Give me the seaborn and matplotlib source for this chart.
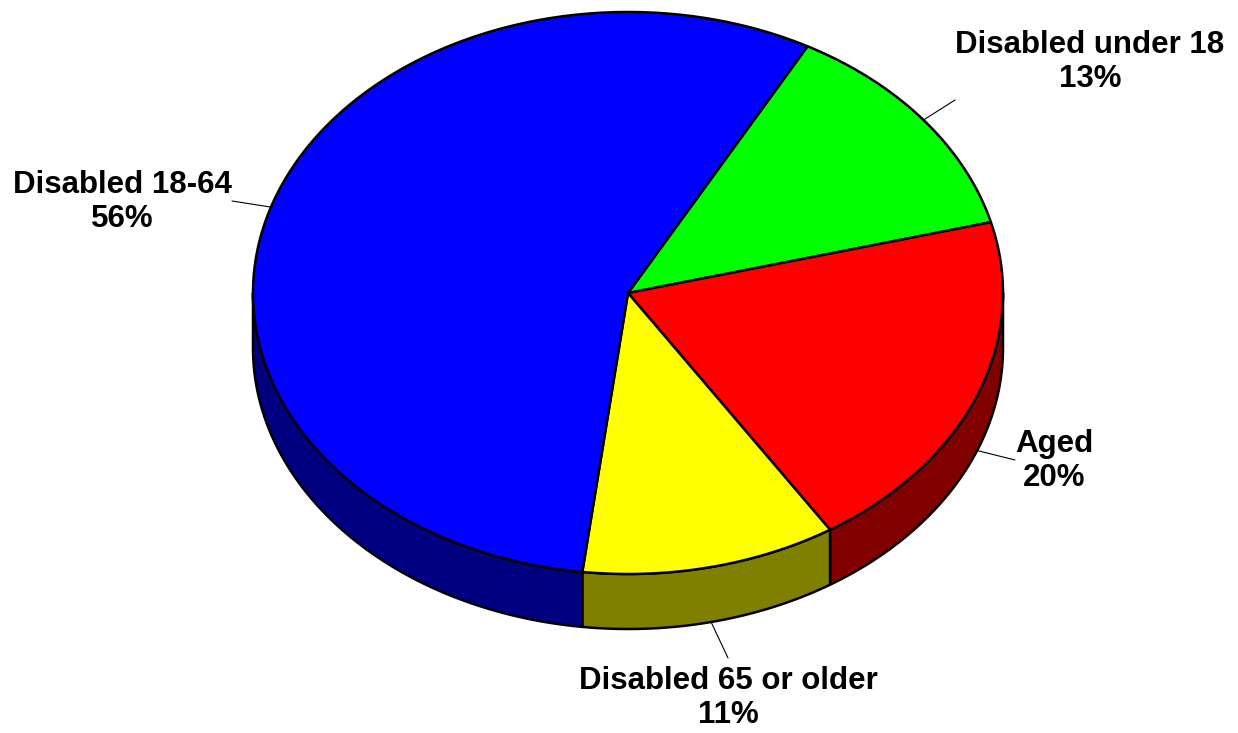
import numpy as np
import matplotlib
matplotlib.use("Agg")
import matplotlib.pyplot as plt  # type: ignore
import seaborn as sns  # type: ignore
from matplotlib.patches import Polygon

# Data
categories = ["Disabled under 18", "Aged", "Disabled 65 or older", "Disabled 18-64"]
shares = [13, 20, 11, 56]
top_colors = ["#00FF00", "#FF0000", "#FFFF00", "#0000FF"]
side_colors = ["#008000", "#800000", "#808000", "#000080"]

# Layout (pixel coordinates of the canvas)
cx, cy = 628, 293
rx, ry = 375, 281
depth = 55
start_angle = 61.4
label_xy = [(1090, 62), (1054, 461), (728, 698), (122, 202)]
leader_end = [(955, 100), (1015, 460), (728, 658), (232, 201)]

sns.set_style("white")
plt.rcParams["font.family"] = ["Liberation Sans", "DejaVu Sans"]
plt.rcParams["text.color"] = "black"


def ellipse(t_deg, drop=0):
    t = np.radians(t_deg)
    return np.column_stack([cx + rx * np.cos(t), cy - ry * np.sin(t) + drop])


fig = plt.figure(figsize=(12.38, 7.33), dpi=100)
ax = fig.add_axes([0, 0, 1, 1])
ax.set_xlim(0, 1238)
ax.set_ylim(733, 0)
ax.axis("off")

total = sum(shares)
bounds = []
a = start_angle
for s in shares:
    b = a - 360 * s / total
    bounds.append((b, a))
    a = b

# Side walls (front half only)
for (lo, hi), col in zip(bounds, side_colors):
    for k in (-1, 0, 1):
        a0 = max(lo + 360 * k, -180)
        b0 = min(hi + 360 * k, 0)
        if a0 < b0:
            t = np.linspace(a0, b0, 200)
            pts = np.vstack([ellipse(t), ellipse(t[::-1], depth)])
            ax.add_patch(Polygon(pts, closed=True, facecolor=col,
                                 edgecolor="black", lw=1.8, joinstyle="round",
                                 zorder=1))

# Top faces
for (lo, hi), col in zip(bounds, top_colors):
    t = np.linspace(hi, lo, 300)
    pts = np.vstack([[cx, cy], ellipse(t)])
    ax.add_patch(Polygon(pts, closed=True, facecolor=col,
                         edgecolor="black", lw=1.8, joinstyle="round",
                         zorder=2))

# Labels with leader lines
for (lo, hi), name, share, (lx, ly), (ex, ey) in zip(
        bounds, categories, shares, label_xy, leader_end):
    mid = (lo + hi) / 2
    drop = depth if np.sin(np.radians(mid)) < 0 else 0
    sx, sy = ellipse([mid], drop)[0]
    ax.plot([sx, ex], [sy, ey], color="black", lw=0.8, zorder=3)
    ax.text(lx, ly, f"{name}\n{share}%", ha="center", va="center",
            multialignment="center", fontsize=22.5, fontweight="bold",
            color="black", linespacing=1.15, zorder=4)

fig.savefig("out.png", dpi=100)
